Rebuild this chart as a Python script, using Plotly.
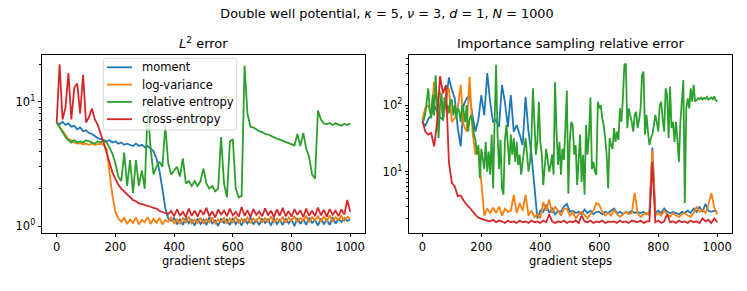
import plotly.graph_objects as go
from plotly.subplots import make_subplots

# ---------------- data ----------------
steps_l = list(range(0, 1001, 10))

l2_moment = [6.8, 6.6, 6.9, 6.5, 6.7, 6.3, 6.4, 6.0, 6.2, 5.8,
             5.9, 5.6, 5.5, 5.3, 5.1, 5.0, 4.9, 4.8, 4.9, 4.7,
             4.8, 4.6, 4.7, 4.5, 4.6, 4.5, 4.4, 4.6, 4.4, 4.5,
             4.3, 4.4, 4.2, 4.0, 3.5, 2.8, 2.0, 1.4, 1.15,
             1.1, 1.16, 1.03, 1.14, 1.02, 1.17, 1.05, 1.12, 1.01, 1.15,
             1.04, 1.13, 1.02, 1.18, 1.05, 1.11, 1.0, 1.15, 1.06, 1.13,
             1.02, 1.16, 1.04, 1.12, 1.01, 1.14, 1.05, 1.17, 1.03, 1.12,
             1.02, 1.15, 1.06, 1.13, 1.01, 1.16, 1.04, 1.12, 1.02, 1.15,
             1.05, 1.13, 1.0, 1.16, 1.04, 1.14, 1.02, 1.17, 1.06, 1.12,
             1.01, 1.15, 1.04, 1.13, 1.02, 1.18, 1.05, 1.14, 1.08, 1.16,
             1.1, 1.13]

l2_logvar = [6.8, 6.3, 5.8, 5.3, 5.0, 4.9, 4.7, 4.6, 4.65, 4.55,
             4.6, 4.5, 4.6, 4.5, 4.55, 4.6, 4.5, 4.2, 2.7, 1.75, 1.3,
             1.15, 1.08, 1.16, 1.04, 1.13, 1.06, 1.17, 1.03, 1.12, 1.07,
             1.18, 1.04, 1.14, 1.06, 1.16, 1.03, 1.12, 1.08, 1.17, 1.05,
             1.13, 1.04, 1.16, 1.07, 1.19, 1.05, 1.12, 1.06, 1.17, 1.04,
             1.14, 1.07, 1.18, 1.05, 1.13, 1.08, 1.16, 1.04, 1.15, 1.07,
             1.19, 1.06, 1.14, 1.08, 1.17, 1.05, 1.15, 1.09, 1.18, 1.06,
             1.16, 1.08, 1.2, 1.07, 1.15, 1.09, 1.19, 1.06, 1.17, 1.1,
             1.2, 1.08, 1.16, 1.1, 1.21, 1.07, 1.18, 1.11, 1.2, 1.09,
             1.19, 1.1, 1.22, 1.08, 1.18, 1.12, 1.21, 1.1, 1.19, 1.15]

l2_relent = [6.8, 6.2, 5.6, 5.2, 4.9, 4.7, 4.9, 4.7, 4.8, 4.7,
             4.9, 4.8, 4.7, 4.6, 4.8, 4.7, 4.9, 4.7, 4.3, 3.8,
             3.2, 2.5, 2.3, 3.9, 2.1, 3.4, 1.85, 3.4, 2.1, 2.8,
             2.0, 9.0, 4.2, 2.6, 3.0, 3.3, 3.0, 6.4, 3.2, 2.6,
             2.8, 3.0, 2.5, 3.5, 2.2, 2.3, 2.1, 2.3, 2.1, 2.3,
             2.9, 2.2, 2.0, 2.1, 1.9, 2.0, 5.2, 2.2, 1.7, 4.8,
             5.0, 2.0, 1.7, 1.75, 19.5, 8.0, 6.3, 6.2, 6.0, 5.8,
             5.7, 5.5, 5.45, 5.3, 5.15, 5.05, 4.95, 4.85, 4.75, 4.65,
             4.55, 4.45, 5.5, 4.4, 5.6, 4.2, 3.6, 2.6, 2.4, 8.5,
             7.2, 6.7, 6.6, 6.75, 6.5, 6.7, 6.55, 6.4, 6.65, 6.5, 6.7]

l2_crossent = [6.8, 20.0, 7.2, 9.0, 17.0, 7.2, 13.0, 14.0, 8.0, 16.5,
               6.8, 7.5, 8.8, 7.2, 6.5, 5.6, 4.7, 3.9, 3.2, 2.7,
               2.4, 2.15, 2.0, 1.9, 1.82, 1.7, 1.62, 1.58, 1.52, 1.5,
               1.48, 1.45, 1.43, 1.4, 1.38, 1.32, 1.3, 1.27, 1.25,
               1.32, 1.2, 1.36, 1.22, 1.3, 1.18, 1.38, 1.21, 1.33, 1.19,
               1.35, 1.23, 1.4, 1.2, 1.31, 1.17, 1.36, 1.24, 1.33, 1.2,
               1.38, 1.22, 1.3, 1.19, 1.42, 1.21, 1.34, 1.18, 1.37, 1.23,
               1.31, 1.2, 1.39, 1.22, 1.33, 1.18, 1.36, 1.21, 1.4, 1.2,
               1.32, 1.19, 1.37, 1.23, 1.34, 1.18, 1.38, 1.21, 1.33, 1.2,
               1.41, 1.22, 1.35, 1.19, 1.37, 1.23, 1.33, 1.2, 1.36, 1.24,
               1.62, 1.3]

steps_r = list(range(0, 1001, 10))

is_moment = [55, 48, 62, 70, 100, 80, 65, 60, 110, 260,
             170, 125, 45, 24, 100, 125, 140, 70, 40, 60,
             141, 70, 300, 110, 55, 60, 47, 200, 110, 47,
             141, 40, 50, 36, 25, 133, 40, 18, 5.5, 2.0,
             2.6, 2.5, 3.2, 2.4, 2.8, 2.3, 2.6, 2.5, 3.0, 3.3,
             2.5, 2.6, 2.4, 2.5, 2.3, 2.7, 2.4, 2.6, 2.3, 2.5,
             2.5, 2.3, 2.5, 2.4, 2.6, 2.8, 2.4, 2.5, 2.3, 2.5,
             2.4, 2.6, 2.4, 2.5, 2.4, 2.5, 2.3, 2.5, 23.0, 2.4,
             2.6, 2.4, 2.8, 2.5, 2.4, 2.5, 2.4, 2.3, 2.5, 2.4,
             2.6, 2.4, 2.8, 2.5, 3.0, 2.5, 3.3, 2.6, 2.5, 2.6, 2.5]

is_logvar = [60, 90, 100, 70, 224, 110, 160, 60, 141, 178,
             56, 63, 90, 200, 50, 40, 266, 40, 18, 22,
             7.0, 2.2, 2.8, 2.4, 2.9, 2.4, 3.0, 2.2, 2.8, 2.5,
             2.6, 4.5, 2.4, 3.4, 2.6, 4.5, 2.2, 2.6, 2.1, 2.3,
             2.0, 3.5, 2.6, 3.8, 2.4, 3.0, 2.6, 2.2, 2.8, 2.8,
             2.2, 2.5, 2.0, 2.3, 2.5, 2.2, 2.0, 2.3, 2.6, 3.4,
             3.2, 2.5, 2.2, 2.4, 2.2, 2.7, 2.3, 2.1, 2.3, 2.5,
             2.3, 2.4, 4.8, 2.4, 2.1, 2.3, 2.4, 2.2, 21.0, 2.2,
             2.4, 2.2, 2.6, 2.3, 2.1, 2.4, 2.2, 2.1, 2.3, 2.4,
             2.2, 2.1, 2.4, 3.0, 2.5, 2.7, 2.4, 3.2, 4.8, 2.9, 2.3]

is_crossent = [58, 40, 36, 38, 24, 56, 270, 150, 200, 14,
               6.8, 6.0, 4.3, 4.4, 3.7, 3.2, 2.9, 2.5, 2.25, 2.05,
               1.95, 1.9, 1.85, 1.8, 1.9, 1.75, 1.85, 1.8, 1.7, 1.85,
               1.75, 1.8, 1.7, 1.85, 1.75, 1.8, 1.7, 1.85, 1.75, 1.8,
               1.7, 1.85, 1.75, 2.3, 1.8, 1.7, 1.8, 1.75, 1.85, 1.7,
               1.8, 1.75, 1.85, 1.7, 2.2, 1.8, 1.75, 1.85, 1.7, 1.8,
               1.75, 1.85, 1.7, 1.8, 1.75, 1.8, 1.7, 1.85, 1.75, 1.8,
               1.7, 1.85, 1.8, 1.75, 1.85, 1.7, 1.8, 1.8, 14.0, 1.75,
               1.85, 1.7, 1.8, 2.3, 1.75, 1.8, 1.7, 1.85, 1.75, 1.8,
               1.7, 1.85, 1.75, 1.8, 1.7, 2.0, 1.8, 1.9, 1.7, 2.0, 1.75]

steps_r_fine = list(range(0, 1001, 5))

is_relent = [56, 60, 75, 110, 178, 90, 63, 141, 70, 280,
             90, 32, 100, 150, 60, 130, 90, 100, 75, 120,
             118, 70, 100, 65, 90, 80, 56, 100, 80, 56,
             100, 40, 60, 70, 56, 36, 30, 18, 25, 8,
             22, 15, 11, 28, 10, 20, 9, 36, 5.6, 56,
             400, 36, 11, 30, 5.6, 4.5, 30, 50, 20, 12.6,
             36, 18, 32, 14, 28, 12.6, 18, 9, 14, 20,
             32, 18, 10, 14, 32, 178, 70, 18, 28, 112,
             28, 18, 6.3, 12.6, 22, 15, 10, 12.6, 18, 9,
             220, 40, 12.6, 28, 9, 22, 15, 45, 165, 4.7,
             30, 56, 50, 18, 25, 6.3, 18, 36, 7, 18,
             4.5, 50, 18, 36, 130, 11, 14, 10, 9, 112,
             89, 100, 63, 50, 32, 18, 5.6, 32, 25, 22,
             45, 28, 40, 30, 89, 56, 126, 400, 420, 45,
             89, 71, 56, 40, 71, 79, 45, 60, 89, 280,
             316, 36, 71, 40, 25, 32, 36, 50, 71, 56,
             40, 100, 112, 60, 40, 178, 141, 32, 188, 45,
             56, 28, 56, 30, 14, 56, 112, 237, 3.4, 89,
             126, 89, 178, 112, 200, 112, 118, 126, 122, 130,
             120, 128, 124, 132, 120, 126, 130, 122, 135, 118, 112]

names = ["moment", "log-variance", "relative entropy", "cross-entropy"]
colors = ["#1f77b4", "#ff7f0e", "#2ca02c", "#d62728"]

left_series = [l2_moment, l2_logvar, l2_relent, l2_crossent]
right_series = [(steps_r, is_moment), (steps_r, is_logvar),
                (steps_r_fine, is_relent), (steps_r, is_crossent)]

for ys in left_series:
    assert len(ys) == len(steps_l), len(ys)
for xs, ys in right_series:
    assert len(ys) == len(xs), (len(xs), len(ys))

# ---------------- figure ----------------
W, H = 747, 291
ML, MR, MT, MB = 42, 15, 55, 58
PW, PH = W - ML - MR, H - MT - MB


def px(x):
    return (x - ML) / PW


def py(y):
    return (H - MB - y) / PH


fig = make_subplots(rows=1, cols=2, horizontal_spacing=0.064)

LW = 1.8
for name, col, ys in zip(names, colors, left_series):
    fig.add_trace(go.Scatter(x=steps_l, y=ys, mode="lines", name=name, showlegend=False,
                             line=dict(color=col, width=LW)), row=1, col=1)
for name, col, (xs, ys) in zip(names, colors, right_series):
    fig.add_trace(go.Scatter(x=xs, y=ys, mode="lines", name=name, showlegend=False,
                             line=dict(color=col, width=LW)), row=1, col=2)

FS = 11.5
font_tick = dict(family="DejaVu Sans", size=FS, color="black")
axis_common = dict(showline=True, linecolor="black", linewidth=0.8, mirror=True,
                   ticks="outside", ticklen=3.5, tickwidth=0.8, tickcolor="black",
                   showgrid=False, zeroline=False, tickfont=font_tick, automargin=False)

fig.update_xaxes(**axis_common, range=[-50, 1050], tickvals=[0, 200, 400, 600, 800, 1000],
                 title=dict(text="gradient steps", font=font_tick, standoff=0))
fig.update_xaxes(range=[-45, 1050], row=1, col=2)

minor_l = [2, 3, 4, 5, 6, 7, 8, 9, 20]
minor_r = [2, 3, 4, 5, 6, 7, 8, 9, 20, 30, 40, 50, 60, 70, 80, 90, 200, 300, 400, 500]
fig.update_yaxes(**axis_common, type="log", row=1, col=1,
                 range=[-0.056, 1.376], tickvals=[1, 10],
                 ticktext=["10<sup>0</sup>", "10<sup>1</sup>"],
                 minor=dict(tickvals=minor_l, ticks="outside", ticklen=2, tickwidth=0.6,
                            tickcolor="black", showgrid=False))
fig.update_yaxes(**axis_common, type="log", row=1, col=2,
                 range=[0.081, 2.75], tickvals=[10, 100],
                 ticktext=["10<sup>1</sup>", "10<sup>2</sup>"],
                 minor=dict(tickvals=minor_r, ticks="outside", ticklen=2, tickwidth=0.6,
                            tickcolor="black", showgrid=False))

# legend box drawn like matplotlib's (rounded, translucent)
bx0, bx1, by0, by1 = 103.3, 236.7, 58.3, 130.0
r = 3.0
legend_path = (
    f"M {px(bx0 + r)} {py(by0)} L {px(bx1 - r)} {py(by0)} "
    f"Q {px(bx1)} {py(by0)} {px(bx1)} {py(by0 + r)} "
    f"L {px(bx1)} {py(by1 - r)} Q {px(bx1)} {py(by1)} {px(bx1 - r)} {py(by1)} "
    f"L {px(bx0 + r)} {py(by1)} Q {px(bx0)} {py(by1)} {px(bx0)} {py(by1 - r)} "
    f"L {px(bx0)} {py(by0 + r)} Q {px(bx0)} {py(by0)} {px(bx0 + r)} {py(by0)} Z"
)
shapes = [dict(type="path", path=legend_path, xref="paper", yref="paper",
               fillcolor="rgba(255,255,255,0.8)", line=dict(color="#cccccc", width=0.8),
               layer="above")]
annotations = []
row_y = [67.3, 84.6, 101.9, 119.2]
for name, col, yy in zip(names, colors, row_y):
    shapes.append(dict(type="line", xref="paper", yref="paper",
                       x0=px(107), x1=px(132), y0=py(yy), y1=py(yy),
                       line=dict(color=col, width=LW), layer="above"))
    annotations.append(dict(text=name, x=px(140), y=py(yy), xref="paper", yref="paper",
                            xanchor="left", yanchor="middle", showarrow=False,
                            font=dict(family="DejaVu Sans", size=FS, color="black")))

annotations += [
    dict(text="<i>L</i><sup>2</sup> error", x=0.234, y=1.0, xref="paper", yref="paper",
         xanchor="center", yanchor="bottom", yshift=2, showarrow=False,
         font=dict(family="DejaVu Sans", size=13, color="black")),
    dict(text="Importance sampling relative error", x=0.766, y=1.0, xref="paper", yref="paper",
         xanchor="center", yanchor="bottom", yshift=2, showarrow=False,
         font=dict(family="DejaVu Sans", size=13, color="black")),
]

fig.update_layout(
    width=W, height=H,
    margin=dict(l=ML, r=MR, t=MT, b=MB),
    plot_bgcolor="white", paper_bgcolor="white",
    font=dict(family="DejaVu Sans", size=FS, color="black"),
    showlegend=False,
    title=dict(text="Double well potential, <i>κ</i> = 5, <i>ν</i> = 3, <i>d</i> = 1, <i>N</i> = 1000",
               x=0.5, xref="paper", xanchor="center", y=0.952, yanchor="middle",
               font=dict(family="DejaVu Sans", size=12.8, color="black")),
    shapes=shapes,
    annotations=annotations,
)

fig.write_html("out.html", config={"displayModeBar": False},
               post_script="document.body.style.margin='0px';")
